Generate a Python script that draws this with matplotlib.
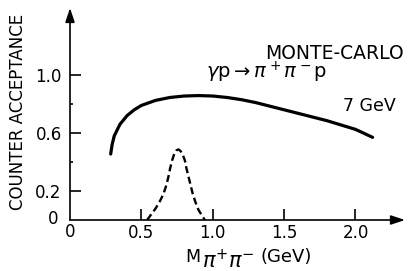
import numpy as np
import matplotlib
matplotlib.use("Agg")
import matplotlib.pyplot as plt

# Monte-Carlo counter acceptance, 7 GeV (solid curve)
mass_acc = [0.285, 0.295, 0.31, 0.35, 0.40, 0.45, 0.50, 0.60, 0.70, 0.80, 0.90, 1.00,
            1.10, 1.20, 1.30, 1.40, 1.50, 1.60, 1.70, 1.80, 1.90, 2.00, 2.12]
acceptance = [0.455, 0.52, 0.58, 0.66, 0.72, 0.76, 0.79, 0.825, 0.845, 0.855, 0.858, 0.855,
              0.845, 0.83, 0.81, 0.785, 0.76, 0.735, 0.71, 0.685, 0.655, 0.625, 0.57]

# rho mass distribution (dashed)
mass_rho = [0.54, 0.57, 0.60, 0.63, 0.655, 0.675, 0.69, 0.70, 0.715, 0.73, 0.745, 0.76,
            0.775, 0.79, 0.805, 0.815, 0.83, 0.845, 0.86, 0.88, 0.90, 0.925, 0.945]
rho = [0.0, 0.04, 0.08, 0.13, 0.18, 0.24, 0.30, 0.35, 0.41, 0.455, 0.48, 0.487,
       0.475, 0.45, 0.41, 0.36, 0.30, 0.24, 0.18, 0.12, 0.07, 0.03, 0.0]

xticks = [0.5, 1.0, 1.5, 2.0]
xticklabels = ["0.5", "1.0", "1.5", "2.0"]
yticks = [0.2, 0.6, 1.0]
yticklabels = ["0.2", "0.6", "1.0"]
yminor = [0.4, 0.8]

plt.rcParams['font.family'] = ['DejaVu Sans']
plt.rcParams['mathtext.fontset'] = 'dejavusans'

W, H = 409, 271
fig = plt.figure(figsize=(W/100, H/100), dpi=100)
ax = fig.add_axes([70/W, 51/H, 335/W, 212/H])
ax.set_xlim(0, 2.347)
ax.set_ylim(0, 1.462)

for s in ax.spines.values():
    s.set_visible(False)

# axes with arrow heads
for tip in [(1, 0), (0, 1)]:
    ax.annotate("", xy=tip, xytext=(0, 0), xycoords='axes fraction',
                arrowprops=dict(arrowstyle='-|>,head_length=0.6,head_width=0.2', color='black',
                                lw=1.2, mutation_scale=14, shrinkA=0, shrinkB=0))

ax.plot(mass_acc, acceptance, color='black', lw=2.3, solid_capstyle='round')
ax.plot(mass_rho, rho, color='black', lw=1.7, ls=(0, (3.0, 1.6)))

ax.set_xticks(xticks)
ax.set_xticklabels(xticklabels)
ax.set_yticks(yticks)
ax.set_yticklabels(yticklabels)
ax.set_yticks(yminor, minor=True)
ax.tick_params(axis='both', which='major', direction='in', length=8, width=1.2,
               labelsize=12)
ax.tick_params(axis='y', which='minor', direction='in', length=2, width=1.2)
ax.tick_params(axis='x', pad=3)
ax.tick_params(axis='y', pad=6)

# the zero labels at the origin
ax.text(0, -0.085, "0", ha='center', va='center', fontsize=12)
ax.text(-0.12, 0.01, "0", ha='center', va='center', fontsize=12)

fig.text(18.5/W, 1 - 112/H, "COUNTER ACCEPTANCE", rotation=90,
         ha='center', va='center', fontsize=12)

# x label: M with lowered pi+ pi- then (GeV)
fig.text(185/W, 1 - 262/H, "M", ha='left', va='baseline', fontsize=12.5)
fig.text(202/W, 1 - 268/H, r"$\pi^{+}\pi^{-}$", ha='left', va='baseline', fontsize=15)
fig.text(260/W, 1 - 262/H, "(GeV)", ha='left', va='baseline', fontsize=13)

ax.text(1.37, 1.15, "MONTE-CARLO", ha='left', va='center', fontsize=13.5)
ax.text(0.95, 1.02, r"$\gamma$p$\rightarrow\pi^+\pi^-$p", ha='left', va='center', fontsize=14)
ax.text(1.91, 0.786, "7 GeV", ha='left', va='center', fontsize=12.5)

fig.savefig("out.png", dpi=100)
